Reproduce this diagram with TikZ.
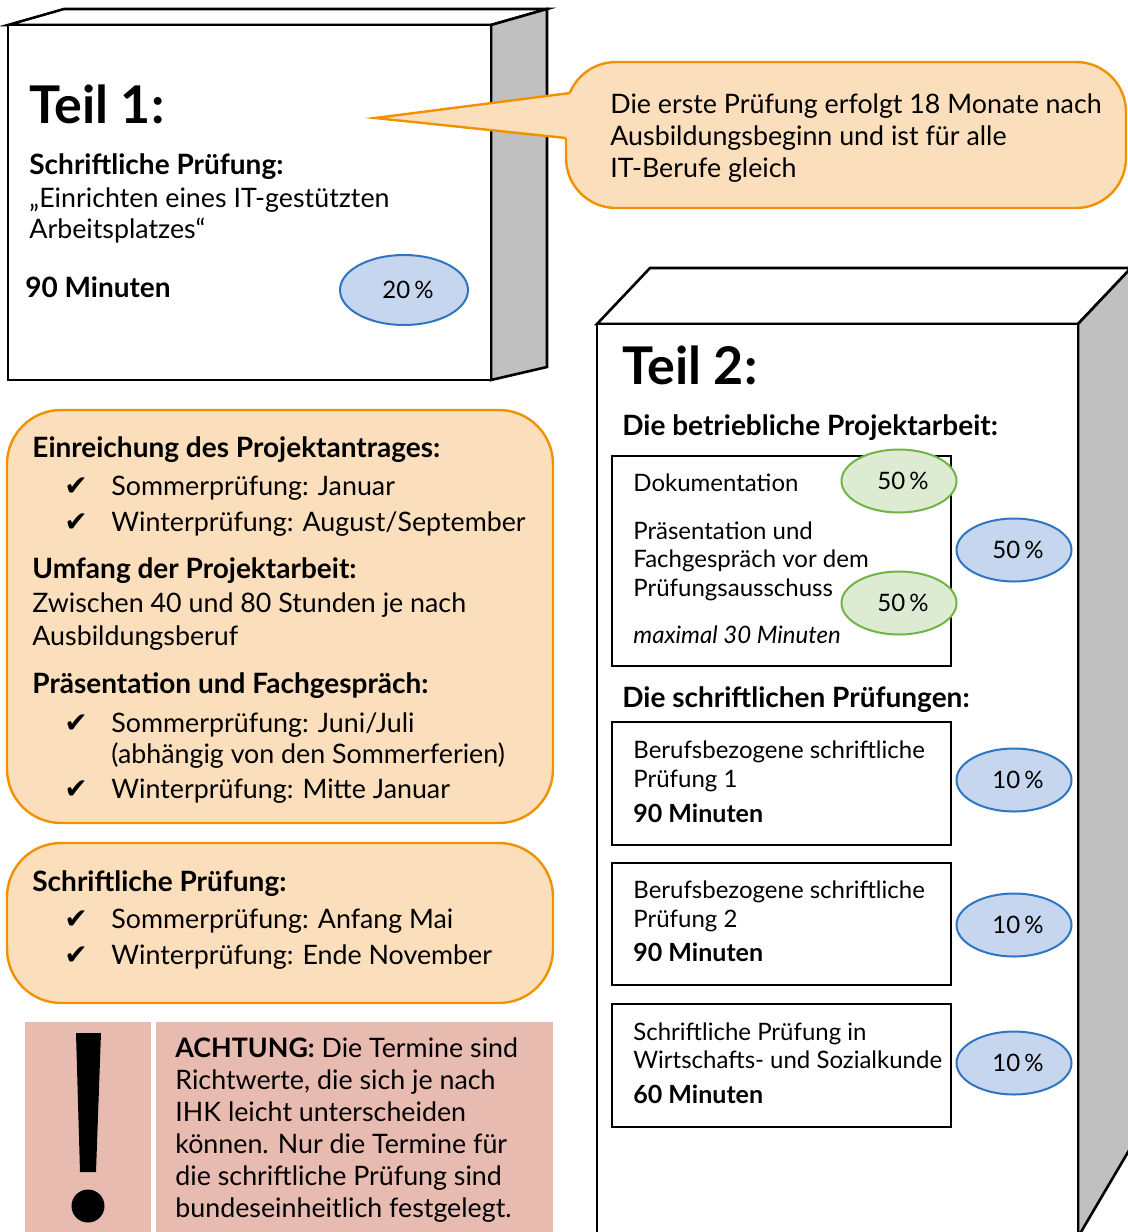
\documentclass[tikz,border=0pt]{standalone}
\usepackage{fontspec}
\setmainfont{Lato}
\newfontfamily\checkfont{DejaVu Sans}
\usetikzlibrary{shapes.geometric}
\definecolor{boxorange}{RGB}{251,222,188}
\definecolor{lineorange}{RGB}{240,146,0}
\definecolor{sidegray}{RGB}{191,192,191}
\definecolor{pctblue}{RGB}{198,214,238}
\definecolor{pctblueline}{RGB}{46,117,194}
\definecolor{pctgreen}{RGB}{221,235,211}
\definecolor{pctgreenline}{RGB}{112,180,70}
\definecolor{warnpink}{RGB}{232,187,177}
\tikzstyle{face}=[draw=black,line width=1.3pt]
\tikzstyle{side}=[face,fill=sidegray]
\tikzstyle{infobox}=[draw=lineorange,fill=boxorange,line width=1.2pt,rounded corners=27pt]
\tikzstyle{exam}=[draw=black,line width=1.3pt]
\tikzstyle{txt}=[anchor=base west,inner sep=0pt,font=\fontsize{13.4}{16}\selectfont]
\tikzstyle{hd}=[txt,font=\fontsize{14}{16}\selectfont\bfseries]
\tikzstyle{stxt}=[txt,font=\fontsize{12}{14}\selectfont]
\tikzstyle{shd}=[txt,font=\fontsize{12.5}{14}\selectfont\bfseries]
\tikzstyle{title}=[txt,font=\fontsize{26}{30}\selectfont\bfseries]
\tikzstyle{tick}=[anchor=base west,inner sep=0pt,font=\checkfont\fontsize{14}{16}\selectfont]
\tikzstyle{pct}=[ellipse,inner sep=0pt,minimum width=57.5pt,minimum height=31.5pt,line width=1pt,font=\fontsize{12}{14}\selectfont]
\tikzstyle{blue pct}=[pct,draw=pctblueline,fill=pctblue]
\tikzstyle{green pct}=[pct,draw=pctgreenline,fill=pctgreen]

\begin{document}
\begin{tikzpicture}[x=0.5pt,y=-0.5pt]
  \useasboundingbox (0,0) rectangle (1128,1232);

  % Teil 1
  \draw[face,fill=white] (8,25) -- (64,9) -- (547,9) -- (491,25) -- cycle;
  \draw[side] (491,25) -- (547,9) -- (547,367) -- (491,380) -- cycle;
  \draw[face,fill=white] (8,25) rectangle (491,380);
  \node[title] (t1) at (29,123) {Teil 1:};
  \node[hd] (t1a) at (29,174) {Schriftliche Prüfung:};
  \node[txt] (t1b) at (29,207) {„Einrichten eines IT-gestützten};
  \node[txt] (t1c) at (29,238) {Arbeitsplatzes“};
  \node[hd] (t1d) at (25,297) {90 Minuten};
  \node[blue pct,minimum width=64pt,minimum height=35pt] (p1) at (404,290) {\hspace*{4pt}20\,\%};

  % Sprechblase
  \draw[infobox,rounded corners=25pt] (566,62) rectangle (1126,208);
  \fill[boxorange] (375,118) -- (570,93) -- (590,93) -- (590,138) -- (566,138) -- cycle;
  \draw[lineorange,line width=1.2pt] (570,93) -- (375,118) -- (566,138);
  \node[txt] (s1) at (610,113) {Die erste Prüfung erfolgt 18 Monate nach};
  \node[txt] (s2) at (610,145) {Ausbildungsbeginn und ist für alle};
  \node[txt] (s3) at (610,177) {IT-Berufe gleich};

  % Teil 2
  \draw[face,fill=white] (597,324) -- (650,268) -- (1131,268) -- (1078,324) -- cycle;
  \draw[side] (1078,324) -- (1131,268) -- (1131,1147) -- (1078,1237) -- cycle;
  \draw[face,fill=white] (597,324) rectangle (1078,1240);
  \node[title] (t2) at (622,384) {Teil 2:};
  \node[hd] (t2a) at (622,435) {Die betriebliche Projektarbeit:};
  \draw[exam] (612,456) rectangle (951,666);
  \node[stxt] (d1) at (633,491) {Dokumentation};
  \node[stxt] (d2) at (633,539) {Präsentation und};
  \node[stxt] (d3) at (633,567) {Fachgespräch vor dem};
  \node[stxt] (d4) at (633,596) {Prüfungsausschuss};
  \node[stxt,font=\fontsize{12}{14}\selectfont\itshape] (d5) at (633,643) {maximal 30 Minuten};
  \node[green pct] (g1) at (899,481) {\hspace*{4pt}50\,\%};
  \node[green pct] (g2) at (899,603) {\hspace*{4pt}50\,\%};
  \node[blue pct] (p2) at (1014,550) {\hspace*{4pt}50\,\%};

  \node[hd] (t2b) at (622,707) {Die schriftlichen Prüfungen:};
  \draw[exam] (612,722) rectangle (951,845);
  \node[stxt] (e1) at (633,758) {Berufsbezogene schriftliche};
  \node[stxt] (e2) at (633,787) {Prüfung 1};
  \node[shd] (e3) at (633,822) {90 Minuten};
  \node[blue pct] (p3) at (1014,780) {\hspace*{4pt}10\,\%};
  \draw[exam] (612,863) rectangle (951,985);
  \node[stxt] (f1) at (633,898) {Berufsbezogene schriftliche};
  \node[stxt] (f2) at (633,927) {Prüfung 2};
  \node[shd] (f3) at (633,961) {90 Minuten};
  \node[blue pct] (p4) at (1014,925) {\hspace*{4pt}10\,\%};
  \draw[exam] (612,1004) rectangle (951,1127);
  \node[stxt] (h1) at (633,1040) {Schriftliche Prüfung in};
  \node[stxt] (h2) at (633,1068) {Wirtschafts- und Sozialkunde};
  \node[shd] (h3) at (633,1103) {60 Minuten};
  \node[blue pct] (p5) at (1014,1063) {\hspace*{4pt}10\,\%};

  % Termine
  \draw[infobox] (7,410) rectangle (553,823);
  \node[hd] (a1) at (32,457) {Einreichung des Projektantrages:};
  \node[tick] (k1) at (64,495) {✔};
  \node[txt] (a2) at (111,495) {Sommerprüfung: Januar};
  \node[tick] (k2) at (64,531) {✔};
  \node[txt] (a3) at (111,531) {Winterprüfung: August/September};
  \node[hd] (a4) at (32,578) {Umfang der Projektarbeit:};
  \node[txt] (a5) at (32,612) {Zwischen 40 und 80 Stunden je nach};
  \node[txt] (a6) at (32,645) {Ausbildungsberuf};
  \node[hd] (a7) at (32,693) {Präsentation und Fachgespräch:};
  \node[tick] (k3) at (64,732) {✔};
  \node[txt] (a8) at (111,732) {Sommerprüfung: Juni/Juli};
  \node[txt] (a9) at (111,763) {(abhängig von den Sommerferien)};
  \node[tick] (k4) at (64,798) {✔};
  \node[txt] (a10) at (111,798) {Winterprüfung: Mitte Januar};

  \draw[infobox] (7,843) rectangle (553,1003);
  \node[hd] (b1) at (32,891) {Schriftliche Prüfung:};
  \node[tick] (k5) at (64,928) {✔};
  \node[txt] (b2) at (111,928) {Sommerprüfung: Anfang Mai};
  \node[tick] (k6) at (64,964) {✔};
  \node[txt] (b3) at (111,964) {Winterprüfung: Ende November};

  % Achtung
  \fill[warnpink] (25,1022) rectangle (151,1240);
  \fill[warnpink] (156,1022) rectangle (553,1240);
  \fill (76,1033) -- (101,1033) -- (96,1172) -- (80,1172) -- cycle;
  \fill (88,1206) circle (8.25pt);
  \node[txt] (w1) at (175,1057) {\textbf{ACHTUNG:} Die Termine sind};
  \node[txt] (w2) at (175,1089) {Richtwerte, die sich je nach};
  \node[txt] (w3) at (175,1121) {IHK leicht unterscheiden};
  \node[txt] (w4) at (175,1153) {können. Nur die Termine für};
  \node[txt] (w5) at (175,1185) {die schriftliche Prüfung sind};
  \node[txt] (w6) at (175,1217) {bundeseinheitlich festgelegt.};
\end{tikzpicture}
\end{document}
